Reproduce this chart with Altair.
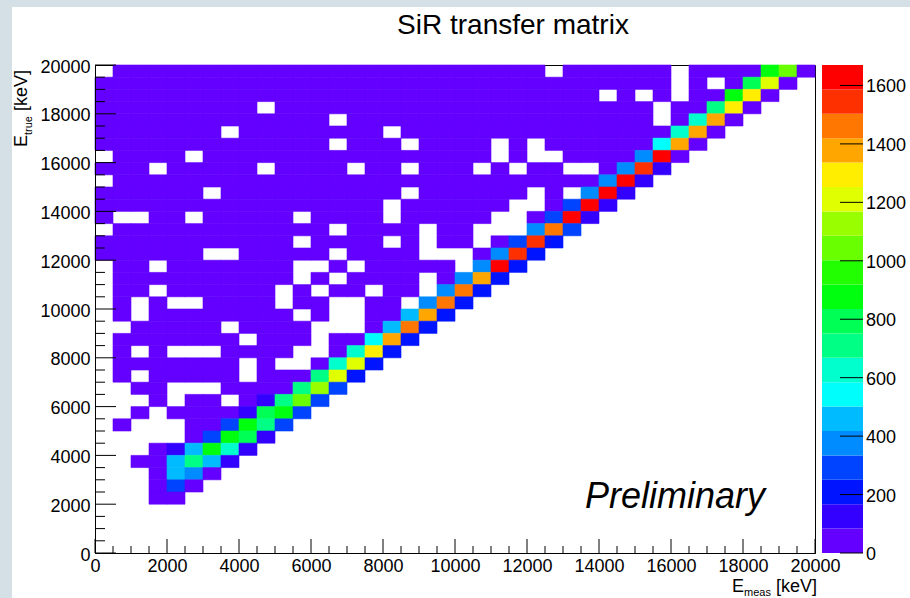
import colorsys
import altair as alt
import pandas as pd

# ---------------- data ----------------
N_BINS = 40
BIN_KEV = 500
E_MAX = 20000
Z_MAX = 1670

# colour-band codes and a representative count for each band
BAND_CODES = "0123456789abcdefghij"
BAND_COUNTS = [40, 125, 210, 290, 375, 460, 540, 625, 710, 795,
               875, 960, 1045, 1130, 1210, 1295, 1380, 1460, 1545, 1630]

# one string per E_true bin, from the top bin (19500-20000 keV) down to 0-500 keV;
# character i is E_meas bin i; '.' = empty bin, otherwise the colour band code
MATRIX_ROWS = [
    "." + "0" * 24 + "." + "0" * 6 + "." + "0000" + "ac0",          # j=39
    "0" * 32 + ".0.0" + "9e0.",                                        # j=38
    "0" * 28 + ".0.0." + "00" + "af0",                                 # j=37
    "0" * 9 + "." + "0" * 21 + "." + "00" + "8f0",                     # j=36
    "0" * 13 + "." + "0" * 17 + "." + "0" + "7g0",                     # j=35
    "0" * 7 + "." + "0" * 8 + "." + "0" * 15 + "7g0",                  # j=34
    "0" * 13 + "." + "000" + "." + "0000" + ".0." + "0" * 6 + "6g0",   # j=33
    "." + "0000" + "." + "0" * 16 + ".0.." + "0000" + "4j0",           # j=32
    "000.00000.0000.00.000.0.00..0" + "4i1",                           # j=31
    "." + "0" * 27 + "4j1",                                            # j=30
    "0" * 6 + "." + "0" * 10 + "." + "0" * 6 + ".0." + "4j1",          # j=29
    "0" * 16 + "." + "0" * 6 + "..0" + "3j1",                          # j=28
    "0..00." + "0" * 5 + "." + "0000" + "." + "0" * 5 + "..0" + "3j1",  # j=27
    "." + "0" * 12 + "." + "0000" + ".00..." + "4h3",                  # j=26
    "0" * 11 + "." + "0000" + ".0.00.0" + "3i2",                       # j=25
    "0" * 6 + ".." + "0" * 5 + "." + "0000" + "...0" + "4i2",          # j=24
    ".00." + "0" * 7 + "..0." + "0" * 5 + "." + "4j2",                 # j=23
    "." + "0" * 10 + ".0." + "0000" + ".0" + "4g2",                    # j=22
    ".00." + "0" * 6 + ".0.00.00." + "4h2",                            # j=21
    ".0.0.." + "0000" + ".00..00." + "4h2",                            # j=20
    ".0." + "0" * 8 + ".0..00" + "5g2",                                # j=19
    ".." + "0" * 5 + "." + "0000" + "...0" + "5h2",                    # j=18
    "." + "0" * 7 + "." + "000" + ".00" + "6g2",                       # j=17
    ".0.0..." + "0000" + "..0" + "7f2",                                # j=16
    "." + "0" * 7 + ".0..0" + "7e2",                                   # j=15
    ".0." + "0" * 5 + "." + "000" + "8e2",                             # j=14
    "..00..." + "0000" + "8d3",                                        # j=13
    "...0.00.0" + "18c3",                                              # j=12
    "..0." + "0000" + "19a3",                                          # j=11
    ".0...00" + "3a83",                                                # j=10
    ".....0" + "3a91",                                                 # j=9
    "...0" + "15a71",                                                  # j=8
    "..00" + "5851",                                                   # j=7
    "...0" + "540",                                                    # j=6
    "...030",                                                          # j=5
    "...00",                                                           # j=4
    "", "", "", "",                                                    # j=3..0
]

X_LABELS = [0, 2000, 4000, 6000, 8000, 10000, 12000, 14000, 16000, 18000, 20000]
Y_LABELS = [0, 2000, 4000, 6000, 8000, 10000, 12000, 14000, 16000, 18000, 20000]
MINOR_TICKS = [500 * i for i in range(41) if i % 4 != 0]
CB_LABELS = [0, 200, 400, 600, 800, 1000, 1200, 1400, 1600]

TITLE = "SiR transfer matrix"
WATERMARK = "Preliminary"

# ---------------- build tables ----------------
cells = []
for r, row in enumerate(MATRIX_ROWS):
    j = N_BINS - 1 - r
    for i, ch in enumerate(row[:N_BINS]):
        if ch == ".":
            continue
        cells.append({"x0": i * BIN_KEV, "x1": (i + 1) * BIN_KEV,
                      "y0": j * BIN_KEV, "y1": (j + 1) * BIN_KEV,
                      "count": BAND_COUNTS[BAND_CODES.index(ch)]})
cells = pd.DataFrame(cells)


# ROOT "pretty" palette (SetPalette(1)) sampled for 20 contour levels
def root_palette(n=20):
    out = []
    for k in range(n):
        idx = int((k + 0.99) * 50 / n)
        hue = 280 - (idx + 1) * 280 / 50
        r, g, b = colorsys.hls_to_rgb(hue / 360.0, 0.5, 1.0)
        out.append("#%02x%02x%02x" % (round(r * 255), round(g * 255), round(b * 255)))
    return out


PALETTE = root_palette(20)
cb_df = pd.DataFrame({
    "b0": [k * Z_MAX / 20 for k in range(20)],
    "b1": [(k + 1) * Z_MAX / 20 for k in range(20)],
    "mid": [BAND_COUNTS[k] for k in range(20)],
})

# ---------------- chart ----------------
FONT = "Liberation Sans"
W, H = 720, 488
PAD = {"left": 95, "top": 65, "right": 95, "bottom": 45}
GREY = "#d5e0e6"

xs = alt.Scale(domain=[0, E_MAX], nice=False, zero=False)
ys = alt.Scale(domain=[0, E_MAX], nice=False, zero=False)
cbs = alt.Scale(domain=[0, Z_MAX], nice=False, zero=False)
cs = alt.Scale(type="quantize", domain=[0, Z_MAX], range=PALETTE)

one = pd.DataFrame({"k": [0]})

grey_left = alt.Chart(one).mark_rect(color=GREY).encode(
    x=alt.value(-PAD["left"]), x2=alt.value(-PAD["left"] + 12),
    y=alt.value(-PAD["top"]), y2=alt.value(H + PAD["bottom"]))
grey_top = alt.Chart(one).mark_rect(color=GREY).encode(
    x=alt.value(-PAD["left"]), x2=alt.value(W + PAD["right"]),
    y=alt.value(-PAD["top"]), y2=alt.value(-PAD["top"] + 7))

axis_common = dict(format="d", title=None, ticks=False, grid=False,
                   domainColor="black", domainWidth=1, labelFont=FONT,
                   labelFontSize=18, labelColor="black", labelFlush=False,
                   labelOverlap=False, zindex=1)
X_AXIS = alt.Axis(values=X_LABELS, labelPadding=4, **axis_common)
Y_AXIS = alt.Axis(values=Y_LABELS, labelPadding=5, labelOffset=2, **axis_common)

heat = alt.Chart(cells).mark_rect(strokeWidth=0.6).encode(
    x=alt.X("x0:Q", scale=xs, axis=X_AXIS),
    x2="x1:Q",
    y=alt.Y("y0:Q", scale=ys, axis=Y_AXIS),
    y2="y1:Q",
    color=alt.Color("count:Q", scale=cs, legend=None),
    stroke=alt.Stroke("count:Q", scale=cs, legend=None),
)

maj_df = pd.DataFrame({"v": X_LABELS})
min_df = pd.DataFrame({"v": MINOR_TICKS})

xmaj = alt.Chart(maj_df).mark_rule(color="black").encode(
    x=alt.X("v:Q", scale=xs, axis=X_AXIS), y=alt.value(H), y2=alt.value(H - 14))
xmin = alt.Chart(min_df).mark_rule(color="black").encode(
    x=alt.X("v:Q", scale=xs, axis=X_AXIS), y=alt.value(H), y2=alt.value(H - 7))
ymaj = alt.Chart(maj_df).mark_rule(color="black").encode(
    y=alt.Y("v:Q", scale=ys, axis=None), x=alt.value(0), x2=alt.value(21))
ymin = alt.Chart(min_df).mark_rule(color="black").encode(
    y=alt.Y("v:Q", scale=ys, axis=None), x=alt.value(0), x2=alt.value(10))

# colour bar (palette axis)
cb = alt.Chart(cb_df).mark_rect().encode(
    x=alt.value(W + 7), x2=alt.value(W + 48),
    y=alt.Y("b0:Q", scale=cbs, axis=None), y2="b1:Q",
    color=alt.Color("mid:Q", scale=cs, legend=None))
cb_lab_df = pd.DataFrame({"v": CB_LABELS, "t": [str(v) for v in CB_LABELS]})
cb_ticks = alt.Chart(cb_lab_df).mark_rule(color="black").encode(
    y=alt.Y("v:Q", scale=cbs, axis=None), x=alt.value(W + 25), x2=alt.value(W + 48))
cb_text = alt.Chart(cb_lab_df).mark_text(
    align="left", baseline="middle", font=FONT, fontSize=18, color="black", dy=2).encode(
    y=alt.Y("v:Q", scale=cbs, axis=None), x=alt.value(W + 51), text="t:N")


def txt(s, x, y, size=18, **kw):
    return alt.Chart(one).mark_text(text=s, font=FONT, fontSize=size, color="black", **kw).encode(
        x=alt.value(x), y=alt.value(y))


title = txt(TITLE, 418, -39, 28, align="center", baseline="middle")
prelim = txt(WATERMARK, 490, 443, 36, align="left", baseline="alphabetic", fontStyle="italic")

xt1 = txt("E", 637, 527, 18, align="left", baseline="alphabetic")
xt2 = txt("meas", 649, 531, 11, align="left", baseline="alphabetic")
xt3 = txt("[keV]", 681, 527, 18, align="left", baseline="alphabetic")

yt1 = txt("E", -68, 82, 18, align="left", baseline="alphabetic", angle=270)
yt2 = txt("true", -63, 70, 11, align="left", baseline="alphabetic", angle=270)
yt3 = txt("[keV]", -68, 46, 18, align="left", baseline="alphabetic", angle=270)

chart = alt.layer(
    grey_left, grey_top, heat, xmaj, xmin, ymaj, ymin,
    cb, cb_ticks, cb_text, title, prelim, xt1, xt2, xt3, yt1, yt2, yt3,
).resolve_scale(y="independent").properties(
    width=W, height=H, padding=PAD, autosize=alt.AutoSizeParams(type="none"),
    background="white",
).configure_view(stroke="black", strokeWidth=1)

chart.save("out.html", embed_options={"renderer": "svg", "actions": False})
